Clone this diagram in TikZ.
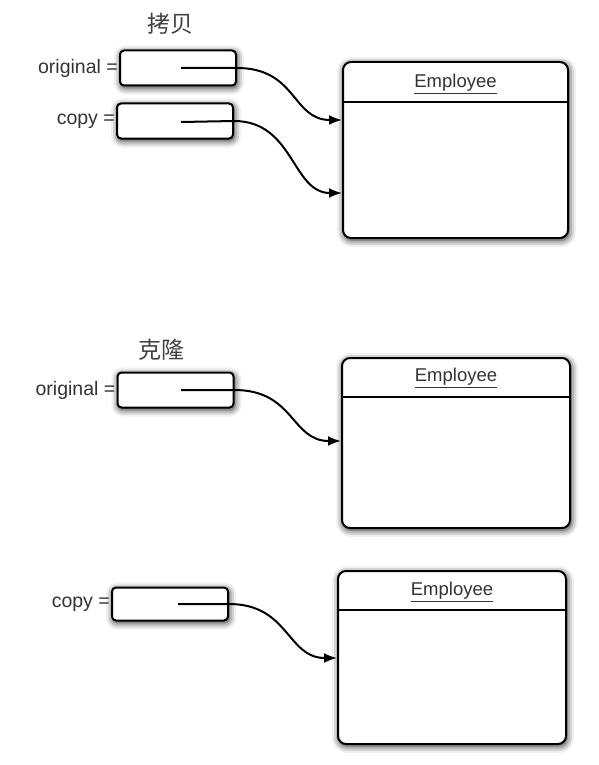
\documentclass[tikz,border=0pt]{standalone}
\usepackage{fontspec}
\setmainfont{Liberation Sans}
\newfontfamily\cjk{Noto Sans CJK SC}
\usetikzlibrary{shadows.blur,arrows.meta}
\begin{document}
\begin{tikzpicture}[x=1pt,y=-1pt,
  shade/.style={blur shadow={shadow xshift=1pt,shadow yshift=-2pt,shadow blur radius=7pt,shadow opacity=90}},
  refbox/.style={draw,line width=2pt,rounded corners=4pt,fill=white,minimum width=116pt,minimum height=35pt,inner sep=0pt,shade},
  objbox/.style={draw,line width=2pt,rounded corners=8pt,fill=white,minimum width=225pt,minimum height=176pt,inner sep=0pt,shade},
  lbl/.style={anchor=east,inner sep=1pt,font=\fontsize{19.5}{21}\selectfont,text=black!80},
  ttl/.style={font=\cjk\fontsize{23}{25}\selectfont,text=black!75},
  cls/.style={font=\fontsize{18.5}{20}\selectfont,text=black!80},
  arr/.style={line width=2pt,-{Latex[length=13pt,width=10pt]}},
  divider/.style={line width=1.3pt}
]
\useasboundingbox (0,0) rectangle (598,765);

% ---------- copy section ----------
\node[ttl] (t1) at (170,24) {拷贝};
\node[refbox] (b1) at (178,68) {};
\node[refbox] (b2) at (175,121) {};
\node[lbl] (l1) at (b1.west) {original =};
\node[lbl] (l2) at (b2.west) {copy =};
\node[objbox] (e1) at (455.5,150) {};
\draw[divider] ([yshift=-41pt]e1.north west) -- ([yshift=-41pt]e1.north east);
\node[cls] (n1) at ([yshift=-23pt]e1.north) {\underline{Employee}};
\coordinate (s1) at (181,68);
\coordinate (s2) at (181,122);
\coordinate (a1) at (e1.west |- 0,120);
\coordinate (a2) at (e1.west |- 0,193);
\draw[arr] (s1) -- (b1.east) .. controls +(60,0) and +(-50,0) .. (a1);
\draw[arr] (s2) -- (b2.east) .. controls +(60,0) and +(-50,0) .. (a2);

% ---------- clone section ----------
\node[ttl] (t2) at (161,350) {克隆};
\node[refbox] (b3) at (175.5,390) {};
\node[lbl] (l3) at (b3.west) {original =};
\node[objbox,minimum width=228pt,minimum height=170pt] (e2) at (456,443) {};
\draw[divider] ([yshift=-40pt]e2.north west) -- ([yshift=-40pt]e2.north east);
\node[cls] (n2) at ([yshift=-21pt]e2.north) {\underline{Employee}};
\coordinate (s3) at (181,390);
\coordinate (a3) at (e2.west |- 0,441);
\draw[arr] (s3) -- (b3.east) .. controls +(60,0) and +(-50,0) .. (a3);

\node[refbox,minimum height=33pt] (b4) at (170,604) {};
\node[lbl] (l4) at (b4.west) {copy =};
\node[objbox,minimum width=228pt,minimum height=173pt] (e3) at (452,657.5) {};
\draw[divider] ([yshift=-40pt]e3.north west) -- ([yshift=-40pt]e3.north east);
\node[cls] (n3) at ([yshift=-22pt]e3.north) {\underline{Employee}};
\coordinate (s4) at (178,604);
\coordinate (a4) at (e3.west |- 0,658);
\draw[arr] (s4) -- (b4.east) .. controls +(60,0) and +(-50,0) .. (a4);
\end{tikzpicture}
\end{document}
